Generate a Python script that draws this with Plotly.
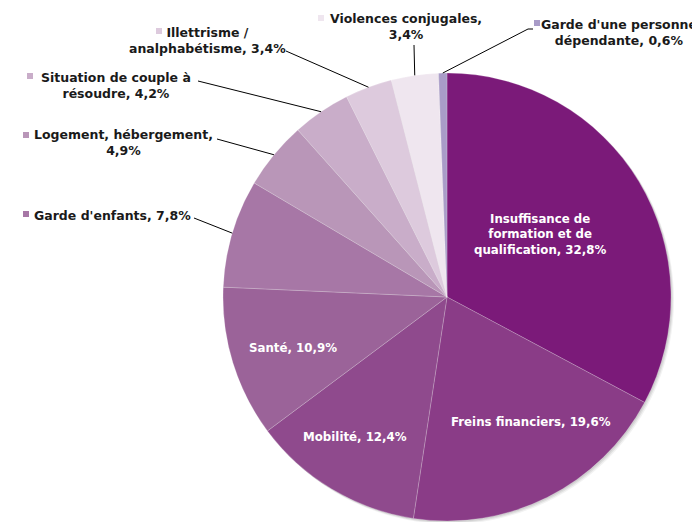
import math
import plotly.graph_objects as go

W, H = 700, 522

labels = [
    "Insuffisance de formation et de qualification",
    "Freins financiers",
    "Mobilité",
    "Santé",
    "Garde d'enfants",
    "Logement, hébergement",
    "Situation de couple à résoudre",
    "Illettrisme / analphabétisme",
    "Violences conjugales",
    "Garde d'une personne dépendante",
]
values = [32.8, 19.6, 12.4, 10.9, 7.8, 4.9, 4.2, 3.4, 3.4, 0.6]
display_labels = [
    "Insuffisance de<br>formation et de<br>qualification",
    "Freins financiers",
    "Mobilité",
    "Santé",
    "Garde d'enfants",
    "Logement, hébergement,<br>",
    "Situation de couple à<br>résoudre",
    "Illettrisme /<br>analphabétisme",
    "Violences conjugales,<br>",
    "Garde d'une personne<br>dépendante",
]
colors = ["#7b1a79", "#8a3c87", "#8f4a8d", "#9b6399", "#a777a6",
          "#b996b8", "#c9adc9", "#ddcadd", "#efe6ef", "#a99cc8"]

# layout (screen pixels); the page shows the figure offset by the body margin
OFF = 8
CX, CY, R = 447, 297, 224
inside = {0: (540, 234), 1: (531, 422), 2: (355, 437), 3: (293, 348)}
outside = {  # text centre, square top-left, leader start
    4: ((112, 215), (23, 211), [(194, 218)]),
    5: ((123, 143), (23, 132), [(217, 139)]),
    6: ((116, 85), (27, 73), [(198, 81)]),
    7: ((207, 41), (156, 28), [(286, 51)]),
    8: ((406, 27), (318, 15), [(414, 45)]),
    9: ((619, 33), (534, 20), [(533, 29), (528, 29)]),
}

def fx(px):
    return (px - OFF) / W

def fy(py):
    return 1 - (py - OFF) / H

def fmt(v):
    return f"{v:.1f}".replace(".", ",") + "%"

def text_for(i):
    lab = display_labels[i]
    if lab.endswith("<br>"):
        return f"{lab}{fmt(values[i])}"
    return f"{lab}, {fmt(values[i])}"

fig = go.Figure(go.Pie(
    labels=labels, values=values, sort=False, direction="clockwise",
    rotation=0, textinfo="none", hoverinfo="label+percent",
    marker=dict(colors=colors, line=dict(color="rgba(255,255,255,0.35)", width=0.6)),
    domain=dict(x=[fx(CX - R), fx(CX + R)], y=[fy(CY + R), fy(CY - R)]),
    showlegend=False,
))

shapes = []
# soft shadow
for off, a in [(3, 0.05), (2, 0.07), (1, 0.08)]:
    shapes.append(dict(type="circle", xref="paper", yref="paper", layer="below",
                       x0=fx(CX - R + off), x1=fx(CX + R + off),
                       y0=fy(CY + R + off), y1=fy(CY - R + off),
                       fillcolor=f"rgba(0,0,0,{a})", line=dict(width=0)))

annotations = []
font_out = dict(family="DejaVu Sans", size=12.5, color="#1a1a1a")
font_in = dict(family="DejaVu Sans", size=11.8, color="white")

for i, (px, py) in inside.items():
    annotations.append(dict(x=fx(px), y=fy(py), xref="paper", yref="paper",
                            text=f"<b>{text_for(i)}</b>", showarrow=False,
                            xanchor="center", yanchor="middle", align="center",
                            font=font_in))

total = sum(values)
cum = 0
mids = []
for v in values:
    mids.append((cum + v / 2) / total * 2 * math.pi)
    cum += v

for i, ((tx, ty), (sx, sy), pts) in outside.items():
    annotations.append(dict(x=fx(tx), y=fy(ty), xref="paper", yref="paper",
                            text=f"<b>{text_for(i)}</b>", showarrow=False,
                            xanchor="center", yanchor="middle", align="center",
                            font=font_out))
    shapes.append(dict(type="rect", xref="paper", yref="paper",
                       x0=fx(sx), x1=fx(sx + 6), y0=fy(sy + 6), y1=fy(sy),
                       fillcolor=colors[i], line=dict(width=0)))
    ex = CX + R * math.sin(mids[i])
    ey = CY - R * math.cos(mids[i])
    allp = pts + [(ex, ey)]
    path = "M " + " L ".join(f"{fx(x):.5f},{fy(y):.5f}" for x, y in allp)
    shapes.append(dict(type="path", xref="paper", yref="paper", path=path,
                       line=dict(color="black", width=1)))

fig.update_layout(
    width=W, height=H, margin=dict(l=0, r=0, t=0, b=0),
    paper_bgcolor="white", plot_bgcolor="white",
    shapes=shapes, annotations=annotations,
)
fig.write_html("out.html")
